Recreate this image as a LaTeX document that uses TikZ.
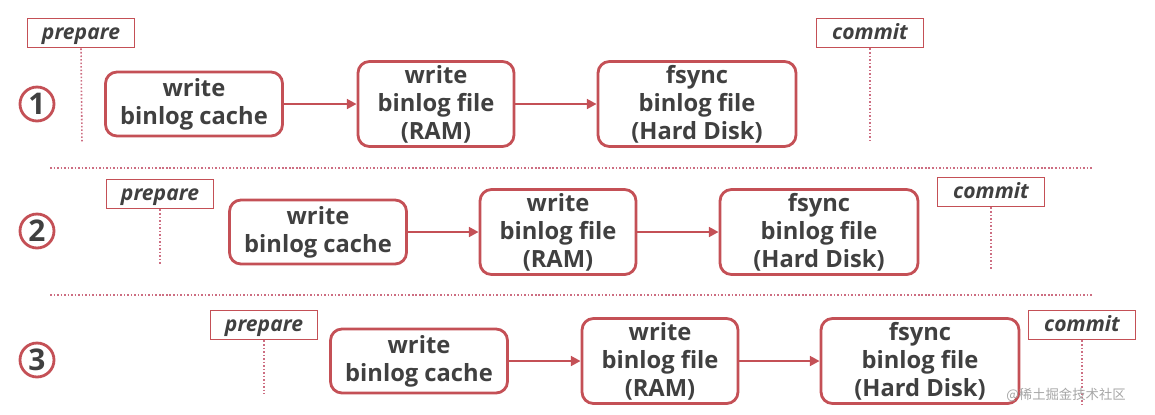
\documentclass[tikz,border=0pt]{standalone}
\usepackage{fontspec}
\setmainfont{Open Sans}
\newfontfamily\cjk{Noto Sans CJK SC}
\usetikzlibrary{arrows.meta, positioning}

\definecolor{rosso}{RGB}{196,80,86}
\definecolor{grigio}{RGB}{64,64,64}
\definecolor{puntini}{RGB}{205,110,130}

\tikzset{
  passo/.style={draw=rosso, line width=1.6pt, rounded corners=6.5pt, text=grigio,
    font=\fontsize{13.5}{15.9}\selectfont\bfseries, align=center, inner sep=0pt},
  cache/.style={passo, minimum width=3.54cm, minimum height=1.28cm},
  file/.style={passo, minimum width=3.12cm, minimum height=1.70cm},
  disco/.style={passo, minimum width=3.96cm, minimum height=1.70cm},
  etichetta/.style={draw=rosso, line width=1.1pt, text=grigio, inner sep=0pt,
    minimum width=2.14cm, minimum height=0.58cm, text height=0.9em, text depth=0.2em,
    font=\fontsize{12}{13}\selectfont\bfseries\itshape},
  numero/.style={circle, draw=rosso, line width=1.6pt, text=grigio, inner sep=0pt,
    minimum size=0.68cm, font=\fontsize{17}{17}\selectfont\bfseries},
  freccia/.style={draw=rosso, line width=1.4pt, -{Triangle[length=5.5pt, width=5.5pt]}},
  puntinato/.style={draw=puntini, line width=0.9pt, dash pattern=on 0.9pt off 1.1pt},
}

\begin{document}
\begin{tikzpicture}[x=0.02cm, y=-0.02cm]
  \useasboundingbox (0,0) rectangle (1155,414);

  % riga 1
  \node[numero] (n1) at (37,104) {1};
  \node[etichetta] (p1) at (81,33) {prepare};
  \node[etichetta] (c1) at (870,33) {commit};
  \coordinate (p1giu) at (82,142);
  \coordinate (c1giu) at (870,142);
  \node[cache] (a1) at (194,104) {write\\binlog cache};
  \node[file] (b1) at (436,104) {write\\binlog file\\(RAM)};
  \node[disco] (d1) at (697,104) {fsync\\binlog file\\(Hard Disk)};
  \draw[puntinato] (p1.south) -- (p1giu);
  \draw[puntinato] (c1.south) -- (c1giu);
  \draw[freccia] (a1) -- (b1);
  \draw[freccia] (b1) -- (d1);

  % separatori
  \coordinate (s1a) at (50,168);
  \coordinate (s1b) at (1093,168);
  \coordinate (s2a) at (50,295);
  \coordinate (s2b) at (1093,295);
  \draw[puntinato] (s1a) -- (s1b);
  \draw[puntinato] (s2a) -- (s2b);

  % riga 2
  \node[numero] (n2) at (37,231) {2};
  \node[etichetta] (p2) at (160,194) {prepare};
  \node[etichetta] (c2) at (991,192) {commit};
  \coordinate (p2giu) at (160,265);
  \coordinate (c2giu) at (991,270);
  \node[cache] (a2) at (318,232) {write\\binlog cache};
  \node[file] (b2) at (558,232) {write\\binlog file\\(RAM)};
  \node[disco] (d2) at (819,232) {fsync\\binlog file\\(Hard Disk)};
  \draw[puntinato] (p2.south) -- (p2giu);
  \draw[puntinato] (c2.south) -- (c2giu);
  \draw[freccia] (a2) -- (b2);
  \draw[freccia] (b2) -- (d2);

  % riga 3
  \node[numero] (n3) at (37,360) {3};
  \node[etichetta] (p3) at (264,325) {prepare};
  \node[etichetta] (c3) at (1082,325) {commit};
  \coordinate (p3giu) at (264,394);
  \coordinate (c3giu) at (1082,405);
  \node[cache] (a3) at (419,361) {write\\binlog cache};
  \node[file] (b3) at (660,361) {write\\binlog file\\(RAM)};
  \node[disco] (d3) at (920,361) {fsync\\binlog file\\(Hard Disk)};
  \draw[puntinato] (p3.south) -- (p3giu);
  \draw[puntinato] (c3.south) -- (c3giu);
  \draw[freccia] (a3) -- (b3);
  \draw[freccia] (b3) -- (d3);

  % filigrana
  \node[text=gray!70, font=\cjk\fontsize{7.6}{8}\selectfont] (wm) at (1066,395) {@稀土掘金技术社区};
\end{tikzpicture}
\end{document}
